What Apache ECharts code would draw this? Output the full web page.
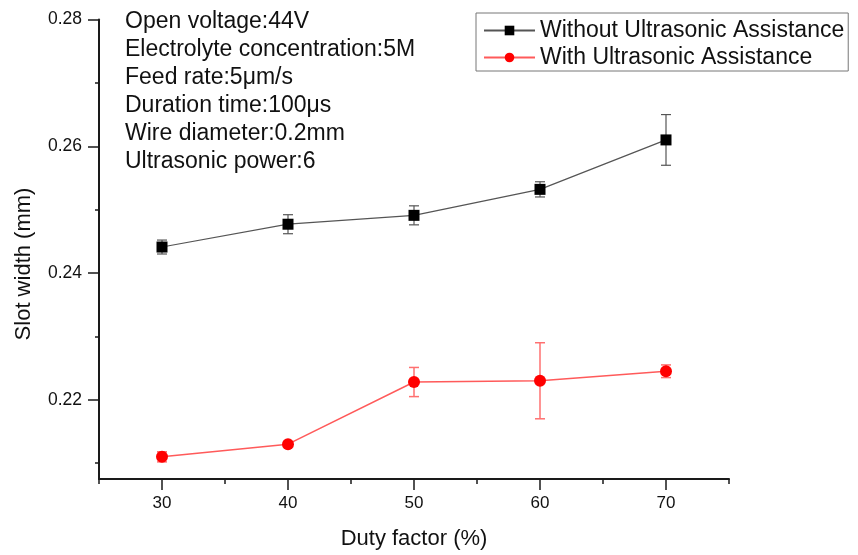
<!DOCTYPE html>
<html>
<head>
<meta charset="utf-8">
<script src="https://cdn.jsdelivr.net/npm/echarts@6/dist/echarts.min.js"></script>
<style>
  html, body { margin: 0; padding: 0; background: #fff; }
  #chart { width: 858px; height: 555px; }
</style>
</head>
<body>
<div id="chart"></div>
<script>
// Duty factor (%) on the x axis
const dutyFactor = [30, 40, 50, 60, 70];

// Slot width (mm) and standard deviation for each condition
const withoutUltrasonic = [0.2441, 0.2477, 0.2491, 0.2532, 0.2610];
const withoutUltrasonicErr = [0.0011, 0.0015, 0.0015, 0.0012, 0.0040];
const withUltrasonic = [0.2110, 0.2130, 0.2228, 0.2230, 0.2245];
const withUltrasonicErr = [0.0008, 0.0003, 0.0023, 0.0060, 0.0010];

// Axis tick positions
const xMajorTicks = [30, 40, 50, 60, 70];
const xMinorTicks = [25, 35, 45, 55, 65, 75];
const yMajorTicks = [0.22, 0.24, 0.26, 0.28];
const yMinorTicks = [0.21, 0.23, 0.25, 0.27];

// Machining conditions printed in the upper-left corner
const conditions = [
  'Open voltage:44V',
  'Electrolyte concentration:5M',
  'Feed rate:5\u03BCm/s',
  'Duration time:100\u03BCs',
  'Wire diameter:0.2mm',
  'Ultrasonic power:6'
];

const seriesNames = ['Without Ultrasonic Assistance', 'With Ultrasonic Assistance'];
const xTitle = 'Duty factor (%)';
const yTitle = 'Slot width (mm)';

const FONT = 'Liberation Sans, Arial, sans-serif';
const AXIS_COLOR = '#1a1a1a';

function pairs(values) {
  return dutyFactor.map((x, i) => [x, values[i]]);
}
function errorRows(values, errs) {
  return dutyFactor.map((x, i) => [x, values[i] - errs[i], values[i] + errs[i]]);
}

// Vertical error bar with short caps, placed through the axis scales
function errorBarRenderer(color, width) {
  return function (params, api) {
    const x = api.value(0);
    const lo = api.coord([x, api.value(1)]);
    const hi = api.coord([x, api.value(2)]);
    const half = 5;
    const style = { stroke: color, lineWidth: width };
    return {
      type: 'group',
      children: [
        { type: 'line', shape: { x1: lo[0], y1: lo[1], x2: hi[0], y2: hi[1] }, style },
        { type: 'line', shape: { x1: lo[0] - half, y1: lo[1], x2: lo[0] + half, y2: lo[1] }, style },
        { type: 'line', shape: { x1: hi[0] - half, y1: hi[1], x2: hi[0] + half, y2: hi[1] }, style }
      ]
    };
  };
}

const xAxisBase = {
  type: 'value', min: 25, max: 75,
  splitLine: { show: false }
};
const yAxisBase = {
  type: 'value', min: 0.2075, max: 0.28,
  splitLine: { show: false }
};

const chart = echarts.init(document.getElementById('chart'), null, { renderer: 'canvas' });

chart.setOption({
  backgroundColor: '#ffffff',
  animation: false,
  grid: { left: 99, right: 129, top: 19.5, bottom: 73.5, containLabel: false },
  xAxis: [
    Object.assign({}, xAxisBase, {
      name: xTitle,
      nameLocation: 'middle',
      nameGap: 49,
      nameTextStyle: { fontFamily: FONT, fontSize: 22, color: '#111' },
      axisLine: { show: true, lineStyle: { color: AXIS_COLOR, width: 2 } },
      axisTick: { show: true, length: 11, lineStyle: { color: AXIS_COLOR, width: 1.5 }, customValues: xMajorTicks },
      axisLabel: { show: true, margin: 16, fontFamily: FONT, fontSize: 17, color: '#111', customValues: xMajorTicks,
        formatter: v => String(v) }
    }),
    Object.assign({}, xAxisBase, {
      position: 'bottom',
      axisLine: { show: false },
      axisTick: { show: true, length: 5, lineStyle: { color: AXIS_COLOR, width: 1.5 }, customValues: xMinorTicks },
      axisLabel: { show: false }
    })
  ],
  yAxis: [
    Object.assign({}, yAxisBase, {
      axisLine: { show: true, lineStyle: { color: AXIS_COLOR, width: 2 } },
      axisTick: { show: true, length: 11, lineStyle: { color: AXIS_COLOR, width: 1.5 }, customValues: yMajorTicks },
      axisLabel: { show: true, margin: 17, fontFamily: FONT, fontSize: 17.5, color: '#111', customValues: yMajorTicks,
        formatter: v => v.toFixed(2) }
    }),
    Object.assign({}, yAxisBase, {
      position: 'left',
      axisLine: { show: false },
      axisTick: { show: true, length: 4, lineStyle: { color: AXIS_COLOR, width: 1.5 }, customValues: yMinorTicks },
      axisLabel: { show: false }
    })
  ],
  legend: {
    left: 476, top: 13,
    orient: 'vertical',
    backgroundColor: '#fff',
    borderColor: '#777', borderWidth: 1,
    padding: [6, 4, 2, 7],
    itemGap: 4,
    itemWidth: 51, itemHeight: 12,
    textStyle: { fontFamily: FONT, fontSize: 23, color: '#111' },
    data: seriesNames
  },
  graphic: [
    {
      type: 'text',
      left: 125, top: 8,
      style: {
        text: conditions.join('\n'),
        font: '23px ' + FONT,
        lineHeight: 28,
        fill: '#111'
      }
    },
    {
      type: 'text',
      x: 24, y: 264,
      rotation: Math.PI / 2,
      style: {
        text: yTitle,
        font: '22px ' + FONT,
        fill: '#111',
        align: 'center',
        verticalAlign: 'middle'
      }
    }
  ],
  series: [
    {
      type: 'custom',
      name: seriesNames[0] + ' error',
      renderItem: errorBarRenderer('#555', 1.2),
      data: errorRows(withoutUltrasonic, withoutUltrasonicErr),
      encode: { x: 0, y: [1, 2] },
      z: 1, silent: true
    },
    {
      type: 'custom',
      name: seriesNames[1] + ' error',
      renderItem: errorBarRenderer('#ff7070', 1.5),
      data: errorRows(withUltrasonic, withUltrasonicErr),
      encode: { x: 0, y: [1, 2] },
      z: 1, silent: true
    },
    {
      type: 'line',
      name: seriesNames[0],
      data: pairs(withoutUltrasonic),
      symbol: 'rect', symbolSize: 11,
      itemStyle: { color: '#000' },
      lineStyle: { color: '#555', width: 1.2 },
      z: 3
    },
    {
      type: 'line',
      name: seriesNames[1],
      data: pairs(withUltrasonic),
      symbol: 'circle', symbolSize: 12,
      itemStyle: { color: '#ff0000' },
      lineStyle: { color: '#ff5a5a', width: 1.5 },
      z: 3
    }
  ]
});
</script>
</body>
</html>
